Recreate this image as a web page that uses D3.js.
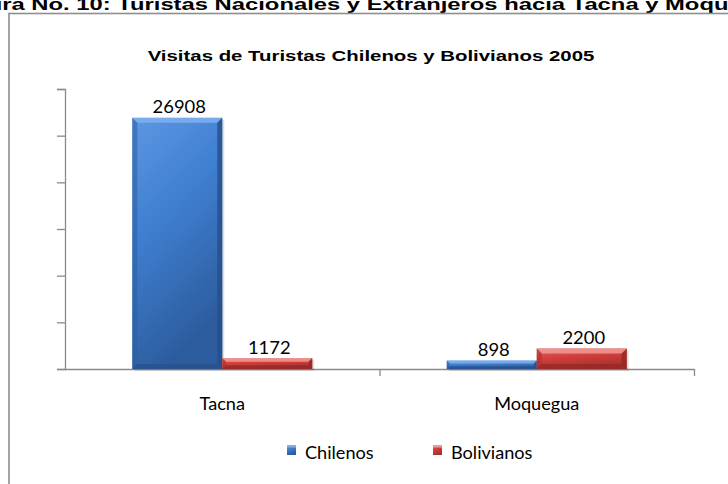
<!DOCTYPE html>
<html>
<head>
<meta charset="utf-8">
<script src="https://cdn.jsdelivr.net/npm/d3@7"></script>
<style>
  body { margin: 0; background: #fff; overflow: hidden; }
</style>
</head>
<body>
<div id="chart"></div>
<script>
// data
var categories = ["Tacna", "Moquegua"];
var seriesNames = ["Chilenos", "Bolivianos"];
var chilenos = [26908, 898];
var bolivianos = [1172, 2200];
var yTicks = [0, 5000, 10000, 15000, 20000, 25000, 30000];

var w = 728, h = 484;

var colors = {
  Chilenos:   { light: "#5d97e2", mid: "#3f7fd0", dark: "#2c5c9e", edge: "#264f8a", top: "#7fb0ee" },
  Bolivianos: { light: "#e46662", mid: "#d2403c", dark: "#a9302d", edge: "#922825", top: "#f09a96" }
};

var dataset = [];
categories.forEach(function(c, i) {
  dataset.push({ cat: c, values: [
    { name: "Chilenos", value: chilenos[i] },
    { name: "Bolivianos", value: bolivianos[i] }
  ]});
});

var svg = d3.select("#chart").append("svg")
  .attr("width", w)
  .attr("height", h);

var defs = svg.append("defs");
seriesNames.forEach(function(n) {
  var g = defs.append("linearGradient")
    .attr("id", "grad-" + n)
    .attr("x1", 0).attr("y1", 0).attr("x2", 0.35).attr("y2", 1);
  g.append("stop").attr("offset", "0%").attr("stop-color", colors[n].light);
  g.append("stop").attr("offset", "45%").attr("stop-color", colors[n].mid);
  g.append("stop").attr("offset", "100%").attr("stop-color", colors[n].dark);
});

// page heading, cut off by the picture edges like in the source
svg.append("text")
  .attr("transform", "translate(-48,10) scale(1.4,1)")
  .attr("font-family", "Liberation Sans, Arial, sans-serif")
  .attr("font-weight", "bold")
  .attr("font-size", "17px")
  .attr("fill", "#000")
  .text("Figura No. 10: Turistas Nacionales y Extranjeros hacia Tacna y Moquegua");

// chart frame
svg.append("rect")
  .attr("x", 9).attr("y", 13.5)
  .attr("width", 900).attr("height", 600)
  .attr("fill", "none")
  .attr("stroke", "#8e8e8e")
  .attr("stroke-width", 1.6);

// chart title
svg.append("text")
  .attr("transform", "translate(371,60.5) scale(1.36,1)")
  .attr("text-anchor", "middle")
  .attr("font-family", "Liberation Sans, Arial, sans-serif")
  .attr("font-weight", "bold")
  .attr("font-size", "15px")
  .attr("fill", "#000")
  .text("Visitas de Turistas  Chilenos y Bolivianos 2005");

var x0 = d3.scaleBand()
  .domain(categories)
  .range([65, 694])
  .paddingInner(0.4277)
  .paddingOuter(0.2139);

var x1 = d3.scaleBand()
  .domain(seriesNames)
  .range([0, x0.bandwidth()]);

var y = d3.scaleLinear()
  .domain([0, 30000])
  .range([369, 89]);

// y axis, ticks only
var yAxis = svg.append("g")
  .attr("transform", "translate(65,0)")
  .call(d3.axisLeft(y).tickValues(yTicks).tickSize(8).tickFormat(""));
yAxis.select(".domain").attr("stroke", "#8a8a8a").attr("stroke-width", 1.3);
yAxis.selectAll(".tick line").attr("stroke", "#8a8a8a").attr("stroke-width", 1.3);

// x axis with ticks on band edges
var xEdges = d3.scaleLinear().domain([0, categories.length]).range([65, 694]);
var xAxis = svg.append("g")
  .attr("transform", "translate(0,369)")
  .call(d3.axisBottom(xEdges).ticks(categories.length).tickSize(7).tickFormat("").tickSizeOuter(0));
xAxis.select(".domain").attr("stroke", "#8a8a8a").attr("stroke-width", 1.3);
xAxis.selectAll(".tick line").attr("stroke", "#8a8a8a").attr("stroke-width", 1.3)
  .filter(function(d) { return d === 0; }).remove();

// bars
var groups = svg.selectAll(".grp")
  .data(dataset)
  .enter()
  .append("g")
  .attr("class", "grp")
  .attr("transform", function(d) { return "translate(" + x0(d.cat) + ",0)"; });

var bars = groups.selectAll(".bar")
  .data(function(d) { return d.values; })
  .enter()
  .append("g")
  .attr("class", "bar");

// soft shadow
bars.append("rect")
  .attr("x", function(d) { return x1(d.name) + 2; })
  .attr("y", function(d) { return y(d.value) + 2; })
  .attr("width", x1.bandwidth())
  .attr("height", function(d) { return y(0) - y(d.value); })
  .attr("fill", "#000")
  .attr("opacity", 0.12);

bars.append("rect")
  .attr("x", function(d) { return x1(d.name); })
  .attr("y", function(d) { return y(d.value); })
  .attr("width", x1.bandwidth())
  .attr("height", function(d) { return y(0) - y(d.value); })
  .attr("fill", function(d) { return "url(#grad-" + d.name + ")"; });

// bevel: light top, darker sides and bottom
function bevel(d) { return Math.min(5, (y(0) - y(d.value)) / 3); }
bars.append("polygon")
  .attr("points", function(d) {
    var l = x1(d.name), r = l + x1.bandwidth(), t = y(d.value), b = bevel(d);
    return [[l, t], [r, t], [r - b, t + b], [l + b, t + b]].join(" ");
  })
  .attr("fill", function(d) { return colors[d.name].top; })
  .attr("opacity", 0.85);
bars.append("polygon")
  .attr("points", function(d) {
    var l = x1(d.name), r = l + x1.bandwidth(), t = y(d.value), bt = y(0), b = bevel(d);
    return [[r, t], [r, bt], [r - b, bt - b], [r - b, t + b]].join(" ");
  })
  .attr("fill", function(d) { return colors[d.name].edge; })
  .attr("opacity", 0.8);
bars.append("polygon")
  .attr("points", function(d) {
    var l = x1(d.name), t = y(d.value), bt = y(0), b = bevel(d);
    return [[l, t], [l + b, t + b], [l + b, bt - b], [l, bt]].join(" ");
  })
  .attr("fill", function(d) { return colors[d.name].dark; })
  .attr("opacity", 0.55);
bars.append("polygon")
  .attr("points", function(d) {
    var l = x1(d.name), r = l + x1.bandwidth(), bt = y(0), b = bevel(d);
    return [[l, bt], [l + b, bt - b], [r - b, bt - b], [r, bt]].join(" ");
  })
  .attr("fill", function(d) { return colors[d.name].edge; })
  .attr("opacity", 0.7);

// value labels
bars.append("text")
  .attr("transform", function(d) {
    var cx = x1(d.name) + x1.bandwidth() / 2 + 2;
    return "translate(" + cx + "," + (y(d.value) - 4.5) + ") scale(1.05,1)";
  })
  .attr("text-anchor", "middle")
  .attr("font-family", "Lato, sans-serif")
  .attr("font-size", "17.5px")
  .attr("fill", "#000")
  .text(function(d) { return d.value; });

// category labels
svg.selectAll(".cat")
  .data(categories)
  .enter()
  .append("text")
  .attr("class", "cat")
  .attr("transform", function(d) {
    return "translate(" + (x0(d) + x0.bandwidth() / 2) + ",409.5) scale(1.1,1)";
  })
  .attr("text-anchor", "middle")
  .attr("font-family", "Lato, sans-serif")
  .attr("font-size", "16.5px")
  .attr("fill", "#000")
  .text(function(d) { return d; });

// legend
var legendX = d3.scalePoint().domain(seriesNames).range([287, 433]);
var leg = svg.selectAll(".leg")
  .data(seriesNames)
  .enter()
  .append("g")
  .attr("class", "leg")
  .attr("transform", function(d) { return "translate(" + legendX(d) + ",445)"; });
leg.append("rect")
  .attr("width", 9).attr("height", 10)
  .attr("fill", function(d) { return "url(#grad-" + d + ")"; });
leg.append("rect")
  .attr("width", 9).attr("height", 2.5)
  .attr("fill", function(d) { return colors[d].top; });
leg.append("text")
  .attr("transform", "translate(18,13.5) scale(1.1,1)")
  .attr("font-family", "Lato, sans-serif")
  .attr("font-size", "16.5px")
  .attr("fill", "#000")
  .text(function(d) { return d; });
</script>
</body>
</html>
